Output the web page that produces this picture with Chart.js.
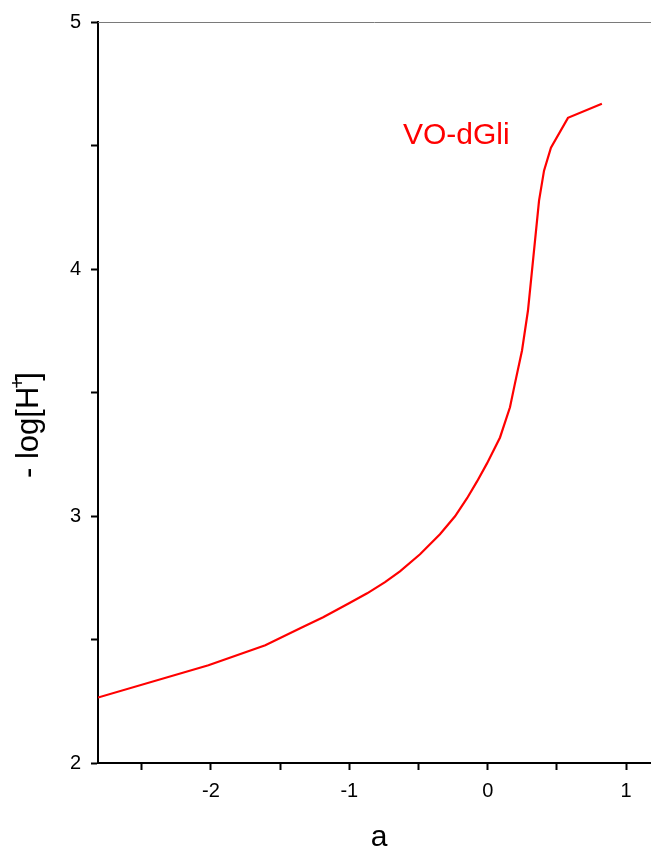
<!DOCTYPE html>
<html>
<head>
<meta charset="utf-8">
<script src="https://cdn.jsdelivr.net/npm/chart.js@4"></script>
<style>
  html, body { margin: 0; padding: 0; background: #fff; }
  #wrap { width: 651px; height: 852px; }
</style>
</head>
<body>
<div id="wrap"><canvas id="titrChart" width="651" height="852"></canvas></div>
<script>
// ===== data =====
const aValues = [-2.816, -2.018, -1.607, -1.355, -1.189, -1.002, -0.871, -0.742, -0.634, -0.489, -0.345, -0.236, -0.149, -0.077, -0.005, 0.089, 0.161, 0.197, 0.248, 0.291, 0.371, 0.407, 0.457, 0.580, 0.825];
const pHValues = [2.265, 2.396, 2.477, 2.546, 2.590, 2.647, 2.687, 2.732, 2.776, 2.845, 2.926, 2.999, 3.072, 3.140, 3.213, 3.318, 3.440, 3.537, 3.670, 3.832, 4.277, 4.398, 4.491, 4.612, 4.669];
const xTickValues = [-2.5, -2, -1.5, -1, -0.5, 0, 0.5, 1];
const yTickValues = [2, 2.5, 3, 3.5, 4, 4.5, 5];
const seriesName = 'VO-dGli';
const xTitle = 'a';
const yTitle = ['- log[H', '+', ']'];

const FONT = '"Liberation Sans", Arial, sans-serif';

// axis titles (with superscript) + series label + top frame line
const decorPlugin = {
  id: 'decor',
  afterDraw(chart) {
    const c = chart.ctx;
    const area = chart.chartArea;
    const xs = chart.scales.x, ys = chart.scales.y;
    c.save();

    // thin top frame
    c.strokeStyle = '#7a7a7a';
    c.lineWidth = 1;
    c.beginPath();
    c.moveTo(area.left, area.top + 0.5);
    c.lineTo(area.right, area.top + 0.5);
    c.stroke();

    // series label
    c.fillStyle = '#ff0000';
    c.font = '30px ' + FONT;
    c.textAlign = 'left';
    c.textBaseline = 'alphabetic';
    c.fillText(seriesName, xs.getPixelForValue(-0.612), ys.getPixelForValue(4.507));

    // x title
    c.fillStyle = '#000';
    c.font = '30px ' + FONT;
    c.textAlign = 'center';
    c.fillText(xTitle, 379, 846);

    // y title, rotated, with superscript +
    c.translate(38, 478);
    c.rotate(-Math.PI / 2);
    c.textAlign = 'left';
    c.font = '31px ' + FONT;
    const w = c.measureText(yTitle[0]).width;
    c.fillText(yTitle[0], 0, 0);
    c.font = '20px ' + FONT;
    c.fillText(yTitle[1], w - 2, -14);
    const w2 = c.measureText(yTitle[1]).width;
    c.font = '31px ' + FONT;
    c.fillText(yTitle[2], w + w2 * 0.5, 0);
    c.restore();
  }
};

const isInt = v => Math.abs(v - Math.round(v)) < 1e-6;

new Chart(document.getElementById('titrChart'), {
  type: 'line',
  data: {
    datasets: [{
      label: seriesName,
      data: aValues.map((a, i) => ({ x: a, y: pHValues[i] })),
      borderColor: '#ff0000',
      borderWidth: 2.2,
      pointRadius: 0,
      tension: 0,
      fill: false
    }]
  },
  options: {
    responsive: false,
    animation: false,
    layout: { padding: { top: 21, right: 0, left: 0, bottom: 0 } },
    plugins: { legend: { display: false }, tooltip: { enabled: false } },
    scales: {
      x: {
        type: 'linear',
        min: -2.816,
        max: 1.18,
        afterBuildTicks: s => { s.ticks = xTickValues.map(v => ({ value: v })); },
        afterFit: s => { s.height = 89; },
        border: { color: '#000', width: 2 },
        grid: { drawOnChartArea: false, tickLength: 7, tickWidth: 2, tickColor: '#000' },
        ticks: {
          autoSkip: false,
          maxRotation: 0,
          padding: 9,
          color: '#000',
          font: { family: FONT, size: 20 },
          callback: v => isInt(v) ? String(Math.round(v)) : ''
        }
      },
      y: {
        type: 'linear',
        min: 2,
        max: 5,
        afterBuildTicks: s => { s.ticks = yTickValues.map(v => ({ value: v })); },
        afterFit: s => { s.width = 98; },
        border: { color: '#000', width: 2 },
        grid: { drawOnChartArea: false, tickLength: 7, tickWidth: 2, tickColor: '#000' },
        ticks: {
          autoSkip: false,
          padding: 10,
          color: '#000',
          font: { family: FONT, size: 20 },
          callback: v => isInt(v) ? String(Math.round(v)) : ''
        }
      }
    }
  },
  plugins: [decorPlugin]
});
</script>
</body>
</html>
